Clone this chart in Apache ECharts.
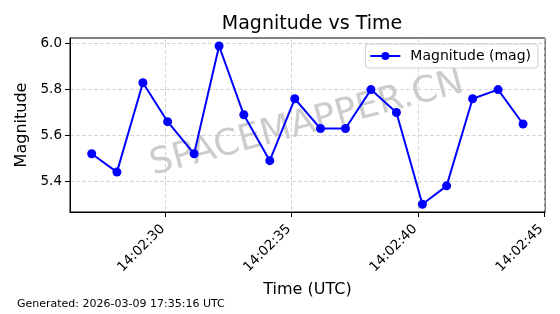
<!DOCTYPE html>
<html><head><meta charset="utf-8">
<script src="https://cdn.jsdelivr.net/npm/echarts@6/dist/echarts.min.js"></script>
<style>html,body{margin:0;padding:0;background:#fff}#c{width:560px;height:314px}</style>
</head><body><div id="c"></div>
<script>
// seconds after 14:02:00 UTC
const timeSeconds = [27.07,28.07,29.10,30.08,31.13,32.12,33.10,34.13,35.12,36.14,37.13,38.14,39.15,40.18,41.14,42.17,43.18,44.17];
const magnitudes = [5.52,5.44,5.83,5.66,5.52,5.99,5.69,5.49,5.76,5.63,5.63,5.80,5.70,5.30,5.38,5.76,5.80,5.65];
const xTicks = [30,35,40,45];
const yTicks = [5.4,5.6,5.8,6.0];
const xRange = [26.21, 45.04];
const yRange = [5.266, 6.025];
const font = 'DejaVu Sans';

function fmtTime(s){
  const ss = Math.round(s);
  return '14:02:' + String(ss).padStart(2,'0');
}

const chart = echarts.init(document.getElementById('c'));
chart.setOption({
  animation:false,
  backgroundColor:'#fff',
  textStyle:{fontFamily:font},
  title:{text:'Magnitude vs Time',left:307,top:10,textAlign:'center',
    textStyle:{fontFamily:font,fontSize:19,fontWeight:'normal',color:'#000'}},
  grid:{left:70,right:15,top:38,bottom:102,show:true,borderColor:'#000',borderWidth:1,backgroundColor:'transparent'},
  legend:{right:22,top:44,orient:'horizontal',itemWidth:30,itemHeight:10,
    padding:[5,7,5,4],borderColor:'#d0d0d0',borderWidth:1,borderRadius:3,backgroundColor:'rgba(255,255,255,0.8)',
    textStyle:{fontFamily:font,fontSize:14,color:'#000',padding:[0,0,0,5]},data:['Magnitude (mag)']},
  xAxis:{type:'value',min:xRange[0],max:xRange[1],
    name:'Time (UTC)',nameLocation:'middle',nameGap:69,
    nameTextStyle:{fontFamily:font,fontSize:16,color:'#000'},
    axisLine:{show:true,lineStyle:{color:'#000',width:1}},
    axisTick:{show:true,length:5,customValues:xTicks,lineStyle:{color:'#000'}},
    axisLabel:{customValues:xTicks,rotate:45,formatter:fmtTime,fontFamily:font,fontSize:13.5,color:'#000',margin:12,padding:[0,4,0,0]},
    splitLine:{show:true,lineStyle:{color:'#cccccc',type:[4,2],width:0.8}}},
  yAxis:{type:'value',min:yRange[0],max:yRange[1],
    name:'Magnitude',nameLocation:'middle',nameGap:38,nameRotate:90,
    nameTextStyle:{fontFamily:font,fontSize:16,color:'#000'},
    axisLine:{show:true,lineStyle:{color:'#000',width:1}},
    axisTick:{show:true,length:5,customValues:yTicks,lineStyle:{color:'#000'}},
    axisLabel:{customValues:yTicks,formatter:v=>v.toFixed(1),fontFamily:font,fontSize:13.5,color:'#000',margin:8},
    splitLine:{show:true,lineStyle:{color:'#cccccc',type:[4,2],width:0.8}}},
  graphic:[
    {type:'text',left:17,top:299,style:{text:'Generated: 2026-03-09 17:35:16 UTC',fontFamily:font,fontSize:11,fill:'#000'}},
    {type:'text',x:307,y:124,rotation:Math.PI*15/180,z:-1,
      style:{text:'SPACEMAPPER.CN',fontFamily:font,fontSize:36,fill:'rgba(128,128,128,0.4)',align:'center',verticalAlign:'middle'}}
  ],
  series:[{
    name:'Magnitude (mag)',type:'line',
    data:timeSeconds.map((t,i)=>[t,magnitudes[i]]),
    symbol:'circle',symbolSize:9,showAllSymbol:true,
    lineStyle:{color:'#0000ff',width:2},
    itemStyle:{color:'#0000ff'}
  }]
});
</script></body></html>
